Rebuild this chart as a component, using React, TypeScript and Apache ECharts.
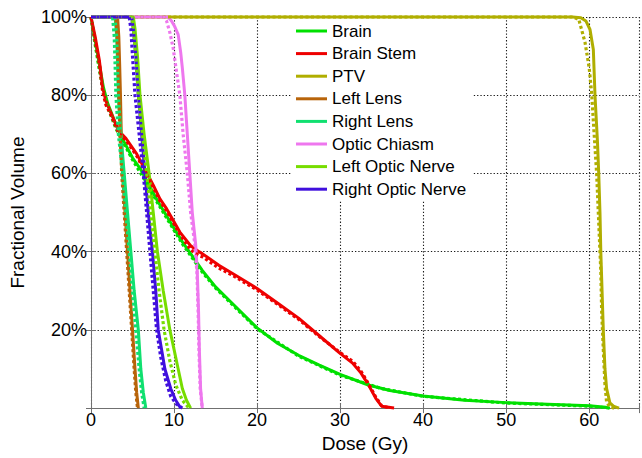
import React, { useEffect, useRef } from "react";
import * as echarts from "echarts";

// Structure names (legend order)
const structures = [
  "Brain",
  "Brain Stem",
  "PTV",
  "Left Lens",
  "Right Lens",
  "Optic Chiasm",
  "Left Optic Nerve",
  "Right Optic Nerve",
];

const colors = ["#00E000", "#EE0000", "#B0AE00", "#B8640A", "#10E070", "#EE77EE", "#77DD00", "#4010DD"];

// Tick values
const xTicks = [0, 10, 20, 30, 40, 50, 60];
const yTicks = [20, 40, 60, 80, 100];

// [dose (Gy), fractional volume (%)] — solid curves
const brainSolid = [[0,100],[0.5,94],[1,88],[1.5,82],[2,78],[3,72.5],[4,68],[5,64],[6,61],[7,57],[8,53],[9,49.5],[10,46],[11,42.5],[12,39.5],[13.4,35.2],[15,31],[17,26.8],[20,20.5],[22.5,16.5],[25,13.5],[27.5,11],[30,8.6],[33.4,5.9],[36,4.5],[40,3.1],[45,2],[50,1.4],[55,1],[60,0.6],[62,0.2],[62.5,0]];
const brainStemSolid = [[0,100],[0.5,95],[1,89],[1.4,82],[1.8,78.5],[2.4,75.5],[3.3,71],[4.2,69],[5.5,65],[6.5,61],[7.5,57],[8.3,53.5],[9.1,51],[10.7,45],[12,41.5],[13,40],[13.4,39.5],[15.4,36.5],[17,34.5],[20,30.6],[22.5,26.8],[25,23],[27.5,18.5],[30,14],[31.5,11.5],[32.5,9],[33.4,6],[34.3,2.5],[35,0.5],[36.5,0]];
const ptvSolid = [[0,100],[58,100],[59,99.8],[59.6,99],[60.1,96.8],[60.5,91.7],[60.7,80],[61,68],[61.15,60],[61.3,50],[61.4,40],[61.55,30],[61.7,20],[61.9,10],[62.1,5],[62.5,1.3],[63,0.4],[63.6,0]];
const leftLensSolid = [[0,100],[3.2,100],[3.35,95],[3.45,88],[3.55,80],[3.65,70],[3.8,60],[4.1,50],[4.4,40],[4.7,30],[5.0,20],[5.3,10],[5.5,4],[5.7,0]];
const rightLensSolid = [[0,100],[2.9,100],[3.1,95],[3.2,88],[3.3,80],[3.6,70],[4.0,60],[4.4,50],[4.8,40],[5.2,30],[5.7,20],[6.0,10],[6.3,4],[6.6,0]];
const opticChiasmSolid = [[0,100],[9.3,100],[9.7,99],[10.1,97.5],[10.5,95.5],[10.8,91],[11.0,87],[11.3,80],[11.6,70],[11.9,60],[12.2,50],[12.6,42],[12.8,35],[12.95,25],[13.05,15],[13.2,5],[13.4,0]];
const leftOpticNerveSolid = [[0,100],[5.1,100],[5.3,97],[5.6,90],[5.9,80],[6.4,70],[7.0,60],[7.5,50],[8.0,40],[8.7,30],[9.5,20],[10.0,15],[10.5,10],[11,5],[11.5,2],[12.0,0]];
const rightOpticNerveSolid = [[0,100],[4.9,100],[5.1,97],[5.4,90],[5.7,80],[6.1,70],[6.5,60],[6.9,50],[7.4,40],[7.8,30],[8.1,20],[8.5,15],[8.9,10],[9.6,5],[10.2,2],[10.8,0]];

// dotted curves
const brainDotted = [[0,100],[0.5,93],[1,86.5],[1.5,81],[2,77],[3,71.5],[4,67.5],[5,63.5],[6,60],[7,56.5],[8,52.5],[9,49],[10,45.5],[11,42],[12,39],[13.4,34.8],[15,30.7],[17,26.5],[20,20.3],[25,13.3],[30,8.4],[35,5],[40,3],[50,1.3],[60,0.5],[62.5,0]];
const brainStemDotted = [[0,100],[0.5,94],[1,88],[1.4,81],[1.8,77.5],[2.4,75],[3.3,70.5],[4.2,68.5],[5.5,64.5],[6.5,60.5],[7.5,56.5],[8.3,53],[9.1,50.5],[10.7,44.5],[12,40.5],[13,39],[13.4,38.7],[15.4,35.8],[17,34],[20,30.2],[22.5,26.5],[25,22.7],[27.5,18.3],[30,14.2],[31.5,12],[32.5,9.5],[33.4,6.3],[34.3,2.8],[35,0.6],[36,0]];
const ptvDotted = [[0,100],[58,100],[58.75,99.4],[59.5,93.5],[60,87],[60.3,80.5],[60.6,70],[60.9,60],[61.2,45],[61.4,35],[61.5,25],[61.7,15],[61.9,6],[62.1,1.5],[62.5,0.3],[63,0]];
const leftLensDotted = [[0,100],[3.0,100],[3.15,95],[3.25,88],[3.35,80],[3.5,70],[3.7,60],[4.0,50],[4.3,40],[4.6,30],[4.9,20],[5.2,10],[5.4,4],[5.6,0]];
const rightLensDotted = [[0,100],[2.6,100],[2.8,95],[2.9,88],[3.0,80],[3.3,70],[3.8,60],[4.2,50],[4.6,40],[5.0,30],[5.4,20],[5.8,10],[6.1,4],[6.4,0]];
const opticChiasmDotted = [[0,100],[8.8,100],[9.1,99],[9.5,96],[9.9,92],[10.2,87.5],[10.7,80],[11.1,70],[11.6,60],[12.0,50],[12.5,42],[12.75,35],[12.9,25],[13.0,15],[13.15,5],[13.4,0]];
const leftOpticNerveDotted = [[0,100],[4.9,100],[5.1,97],[5.4,90],[5.7,80],[6.2,70],[6.7,60],[7.2,50],[7.7,40],[8.2,30],[8.8,20],[9.5,12],[10.2,6],[11,2],[11.8,0]];
const rightOpticNerveDotted = [[0,100],[4.6,100],[4.8,97],[5.0,90],[5.3,80],[5.8,70],[6.3,60],[6.7,50],[7.1,40],[7.5,30],[7.9,20],[8.4,13],[9.0,7],[9.6,3],[10.3,1],[11,0]];

const solidData = [brainSolid, brainStemSolid, ptvSolid, leftLensSolid, rightLensSolid, opticChiasmSolid, leftOpticNerveSolid, rightOpticNerveSolid];
const dottedData = [brainDotted, brainStemDotted, ptvDotted, leftLensDotted, rightLensDotted, opticChiasmDotted, leftOpticNerveDotted, rightOpticNerveDotted];

const FONT = "'Liberation Sans', Arial, sans-serif";

export default function App() {
  const ref = useRef<HTMLDivElement>(null);
  useEffect(() => {
    if (!ref.current) return;
    const chart = echarts.init(ref.current, null, { renderer: "svg" });
    const axisColor = "#707070";
    const gridLine = { show: true, lineStyle: { color: "#1a1a1a", type: [1.3, 2] as any, width: 1.1 } };
    const series: any[] = [];
    structures.forEach((name, i) => {
      series.push({
        type: "line",
        name,
        data: solidData[i],
        showSymbol: false,
        symbol: "none",
        clip: false,
        color: colors[i],
        lineStyle: { color: colors[i], width: 3 },
        z: 3,
      });
    });
    structures.forEach((name, i) => {
      series.push({
        type: "line",
        name,
        data: dottedData[i],
        showSymbol: false,
        symbol: "none",
        clip: false,
        color: colors[i],
        lineStyle: { color: colors[i], width: 3.2, type: [3, 2.5], cap: "butt" },
        z: 3,
      });
    });
    chart.setOption({
      animation: false,
      backgroundColor: "#fff",
      textStyle: { fontFamily: FONT },
      grid: { left: 87, top: 17, width: 556, height: 393, containLabel: false },
      legend: {
        data: structures,
        orient: "vertical",
        left: 291,
        top: 20,
        icon: "rect",
        itemWidth: 31,
        itemHeight: 3,
        itemGap: 2.6,
        itemTextGap: 5,
        selectedMode: false,
        backgroundColor: "#fff",
        padding: [1, 7, 1, 5],
        textStyle: { fontSize: 17, fontFamily: FONT, color: "#000", lineHeight: 20 },
        z: 10,
      },
      xAxis: [
        {
          type: "value",
          min: 0,
          max: 66,
          interval: 10,
          name: "Dose (Gy)",
          nameLocation: "middle",
          nameGap: 16,
          nameTextStyle: { fontSize: 19, color: "#000", fontFamily: FONT },
          axisLine: { show: true, lineStyle: { color: axisColor, width: 1 } },
          axisTick: { show: true, inside: true, length: 5, lineStyle: { color: axisColor } },
          axisLabel: {
            fontSize: 18,
            color: "#000",
            margin: 3,
            fontFamily: FONT,
            formatter: (v: number) => (xTicks.includes(v) ? String(v) : ""),
          },
          splitLine: gridLine,
        },
        {
          type: "value",
          position: "top",
          min: 0,
          max: 66,
          interval: 10,
          axisLine: { show: true, lineStyle: { color: axisColor, width: 1 } },
          axisTick: { show: true, inside: true, length: 5, lineStyle: { color: axisColor } },
          axisLabel: { show: false },
          splitLine: { show: false },
        },
      ],
      yAxis: [
        {
          type: "value",
          min: 0,
          max: 100,
          interval: 20,
          name: "Fractional Volume",
          nameLocation: "middle",
          nameGap: 64,
          nameTextStyle: { fontSize: 19, color: "#000", fontFamily: FONT },
          axisLine: { show: true, lineStyle: { color: axisColor, width: 1 } },
          axisTick: { show: true, inside: true, length: 5, lineStyle: { color: axisColor } },
          axisLabel: {
            fontSize: 18,
            color: "#000",
            margin: 4,
            fontFamily: FONT,
            formatter: (v: number) => (yTicks.includes(v) ? v + "%" : ""),
          },
          splitLine: gridLine,
        },
        {
          type: "value",
          position: "right",
          min: 0,
          max: 100,
          interval: 20,
          axisLine: { show: true, lineStyle: { color: axisColor, width: 1 } },
          axisTick: { show: true, inside: true, length: 5, lineStyle: { color: axisColor } },
          axisLabel: { show: false },
          splitLine: { show: false },
        },
      ],
      series,
    });
    return () => chart.dispose();
  }, []);
  return (
    <div
      ref={ref}
      style={{ position: "fixed", left: 0, top: 0, width: 642, height: 458, background: "#fff" }}
    />
  );
}
